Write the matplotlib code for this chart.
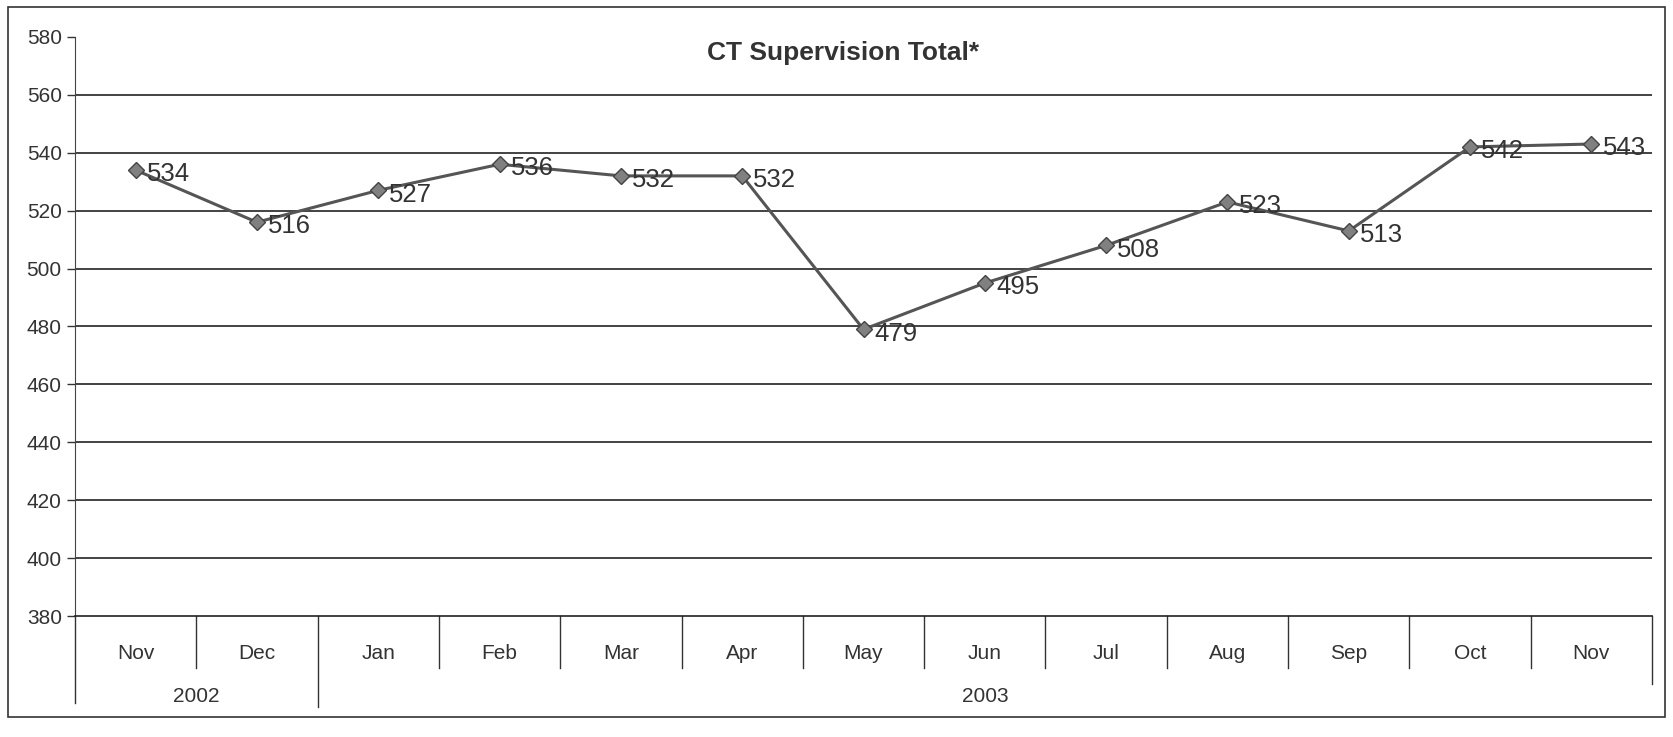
import numpy as np
import matplotlib.pyplot as plt
from matplotlib.patches import Rectangle
import matplotlib.transforms as mtransforms

months = ['Nov', 'Dec', 'Jan', 'Feb', 'Mar', 'Apr', 'May', 'Jun', 'Jul', 'Aug', 'Sep', 'Oct', 'Nov']
years = ['2002', '2003']
year_spans = [(0, 1), (2, 12)]
totals = [534, 516, 527, 536, 532, 532, 479, 495, 508, 523, 513, 542, 543]

plt.rcParams['font.family'] = ['Liberation Sans', 'DejaVu Sans']

fig = plt.figure(figsize=(16.73, 7.37), dpi=100)
ax = fig.add_axes([0.0448, 0.164, 0.9427, 0.786])

# outer chart border
fig.patches.append(Rectangle((8 / 1673, 20 / 737), 1657 / 1673, 710 / 737,
                             transform=fig.transFigure, fill=False,
                             edgecolor='#333333', linewidth=1.2))

x = np.arange(len(months))
ax.plot(x, totals, color='#555555', linewidth=2.2, marker='D', markersize=8,
        markerfacecolor='#808080', markeredgecolor='#444444', zorder=3)
for xi, v in zip(x, totals):
    ax.annotate(str(v), (xi, v), xytext=(8, -3), textcoords='offset points',
                ha='left', va='center', fontsize=18.5, color='#333333', zorder=4)

ax.set_xlim(-0.5, len(months) - 0.5)
ax.set_ylim(380, 580)
ax.set_yticks(np.arange(380, 581, 20))
ax.tick_params(axis='y', labelsize=15, colors='#333333', length=6, width=1)
for gy in range(400, 580, 20):
    ax.axhline(gy, color='#222222', linewidth=1.2, zorder=1)

ax.set_xticks([])
for s in ['top', 'right']:
    ax.spines[s].set_visible(False)
ax.spines['left'].set_color('#444444')
ax.spines['bottom'].set_color('#222222')
ax.spines['bottom'].set_linewidth(1.2)

# two-level category axis
trans = mtransforms.blended_transform_factory(ax.transData, ax.transAxes)
for i, m in enumerate(months):
    ax.text(i, -0.064, m, transform=trans, ha='center', va='center',
            fontsize=15, color='#333333')
for i in range(len(months) + 1):
    xb = i - 0.5
    if i == 0:
        y0 = -0.15
    elif i == 2:
        y0 = -0.157
    elif i == len(months):
        y0 = -0.117
    else:
        y0 = -0.089
    ax.plot([xb, xb], [0, y0], transform=trans, color='#333333',
            linewidth=1, clip_on=False)
for yr, (a, b) in zip(years, year_spans):
    ax.text((a + b) / 2, -0.138, yr, transform=trans, ha='center', va='center',
            fontsize=15, color='#333333')

fig.text(0.504, 0.928, 'CT Supervision Total*', ha='center', va='center',
         fontsize=19, fontweight='bold', color='#333333')

fig.savefig('out.png', dpi=100)
